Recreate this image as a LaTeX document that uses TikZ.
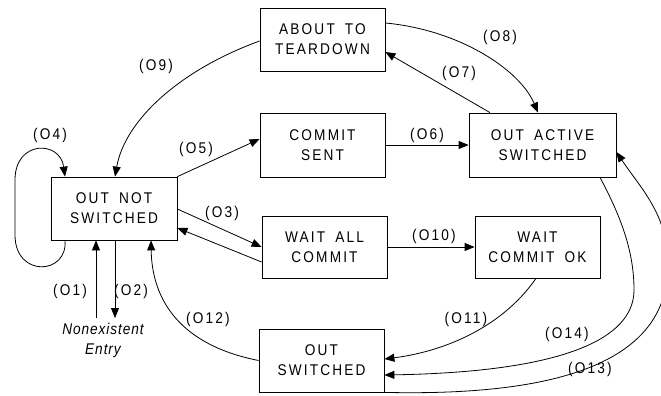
\documentclass[tikz,border=0pt]{standalone}
\usepackage{fontspec}
\setmainfont{Liberation Sans}[LetterSpace=14, FakeStretch=0.88, WordSpace=1.7]
\newfontfamily\entryfont{Liberation Sans}[LetterSpace=6, FakeStretch=0.88]
\usetikzlibrary{arrows.meta}

\tikzset{
  statebox/.style={draw, line width=0.8pt, inner sep=0pt, align=center,
    font=\fontsize{15.5}{20}\selectfont},
  lbl/.style={font=\fontsize{15.5}{20}\selectfont, inner sep=0pt},
  trans/.style={line width=0.8pt, -{Triangle[length=10pt,width=8pt]}},
}

\begin{document}
\begin{tikzpicture}[x=1pt, y=-1pt]
  \useasboundingbox (0,0) rectangle (661,396);
  \clip (0,0) rectangle (661,396);

  % states
  \node[statebox, minimum width=125pt, minimum height=63pt] (abt) at (322.5,39.5) {ABOUT TO\\TEARDOWN};
  \node[statebox, minimum width=125pt, minimum height=64pt] (cs)  at (322.5,145) {COMMIT\\SENT};
  \node[statebox, minimum width=147pt, minimum height=64pt] (oas) at (542.5,145) {OUT ACTIVE\\SWITCHED};
  \node[statebox, minimum width=126pt, minimum height=63pt] (ons) at (114,208.5) {OUT NOT\\SWITCHED};
  \node[statebox, minimum width=125pt, minimum height=62pt] (wac) at (324.5,247) {WAIT ALL\\COMMIT};
  \node[statebox, minimum width=125pt, minimum height=62pt] (wco) at (537.5,247) {WAIT\\COMMIT OK};
  \node[statebox, minimum width=125pt, minimum height=63pt] (os)  at (321.5,360.5) {OUT\\SWITCHED};

  \node[lbl, align=center, font=\entryfont\fontsize{15.5}{20}\selectfont\itshape] (ne) at (103,340) {Nonexistent\\Entry};
  \coordinate (neL) at (96,318);
  \coordinate (neR) at (115,318);

  % transitions
  \draw[trans] (neL) -- ([xshift=-18pt]ons.south);
  \draw[trans] ([xshift=1pt]ons.south) -- (neR);
  \draw[trans] ([yshift=-0.5pt]ons.east) -- (wac.west);
  \draw[trans] ([yshift=-15pt]wac.west) -- ([yshift=-19.5pt]ons.east);
  \draw[trans] ([xshift=-49pt]ons.south) .. controls (68,275) and (15,278) .. (15,235)
     -- (15,180) .. controls (15,140) and (60,140) .. ([xshift=-49pt]ons.north);
  \draw[trans] (ons.north east) -- ([yshift=6pt]cs.west);
  \draw[trans] (cs.east) -- (oas.west);
  \draw[trans] ([xshift=-52.5pt]oas.north) -- ([yshift=-12.5pt]abt.east);
  \draw[trans] ([yshift=16.5pt]abt.east) .. controls (460,30) and (520,70) .. ([xshift=-4.5pt]oas.north);
  \draw[trans] ([yshift=-1.5pt]abt.west) .. controls (180,70) and (125,120) .. ([xshift=1pt]ons.north);
  \draw[trans] (wac.east) -- (wco.west);
  \draw[trans] ([xshift=-1.5pt]wco.south) .. controls (500,330) and (440,352) .. ([yshift=1.5pt]os.east);
  \draw[trans] (os.west) .. controls (180,345) and (152,300) .. ([xshift=37pt]ons.south);
  \draw[trans] (os.south east) .. controls (585,397) and (668,350) .. (668,265)
     .. controls (668,215) and (642,190) .. ([yshift=-7pt]oas.east);
  \draw[trans] ([xshift=57.5pt]oas.south) .. controls (620,215) and (634,250) .. (634,290)
     .. controls (634,340) and (560,372) .. ([yshift=-14.5pt]os.east);

  % transition labels
  \node[lbl] (l1)  at (70,291)  {(O1)};
  \node[lbl] (l2)  at (131,291) {(O2)};
  \node[lbl] (l3)  at (222,213) {(O3)};
  \node[lbl] (l4)  at (50,135)  {(O4)};
  \node[lbl] (l5)  at (196,149) {(O5)};
  \node[lbl] (l6)  at (427,135) {(O6)};
  \node[lbl] (l7)  at (459,73)  {(O7)};
  \node[lbl] (l8)  at (500,37)  {(O8)};
  \node[lbl] (l9)  at (156,66)  {(O9)};
  \node[lbl] (l10) at (434,236) {(O10)};
  \node[lbl] (l11) at (466,319) {(O11)};
  \node[lbl] (l12) at (208,319) {(O12)};
  \node[lbl] (l13) at (590,369) {(O13)};
  \node[lbl] (l14) at (567,334) {(O14)};
\end{tikzpicture}
\end{document}
